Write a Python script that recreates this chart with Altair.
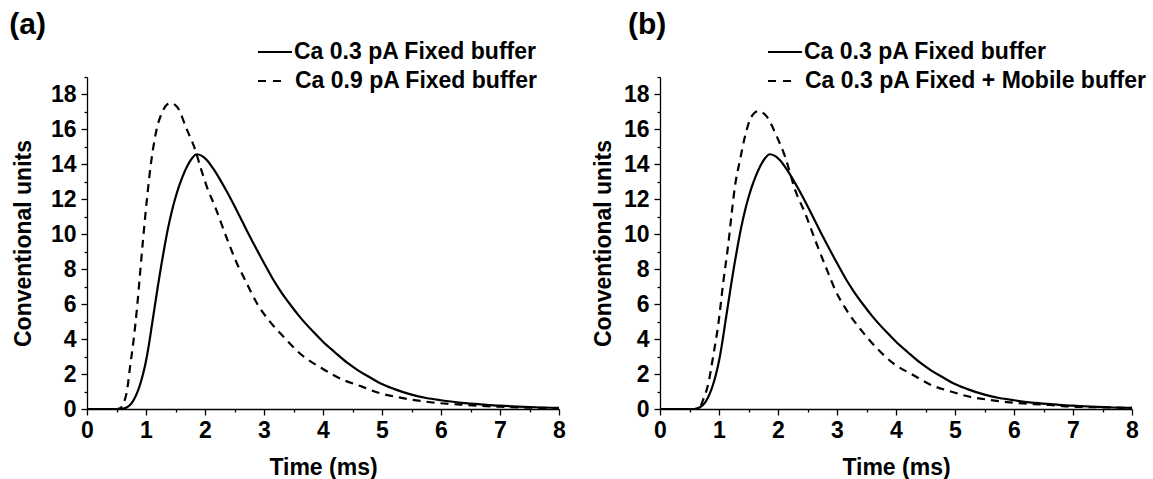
import altair as alt
import pandas as pd

# ---- data ----
fixed03_t = [0, 0.58, 0.65, 0.72, 0.78, 0.84, 0.9, 0.95, 1.0, 1.05, 1.1, 1.15, 1.2,
             1.26, 1.32, 1.38, 1.44, 1.5, 1.56, 1.62, 1.7, 1.78, 1.86, 1.94, 2.03, 2.14, 2.26,
             2.37, 2.48, 2.6, 2.71, 2.85, 3.0, 3.14, 3.28, 3.45, 3.6, 3.84, 4.0, 4.2, 4.41, 4.6,
             4.8, 4.97, 5.2, 5.5, 5.75, 6.0, 6.3, 6.67, 7.0, 7.3, 7.6, 8.0]
fixed03_v = [0, 0, 0.05, 0.2, 0.45, 0.85, 1.4, 2.0, 2.75, 3.7, 4.8, 5.9, 7.0,
             8.25, 9.4, 10.45, 11.35, 12.1, 12.75, 13.3, 13.9, 14.35, 14.58, 14.5, 14.25, 13.75, 13.1,
             12.45, 11.75, 10.95, 10.2, 9.3, 8.35, 7.5, 6.75, 5.95, 5.3, 4.4, 3.85, 3.25, 2.65, 2.2,
             1.8, 1.47, 1.15, 0.82, 0.63, 0.5, 0.37, 0.27, 0.19, 0.14, 0.1, 0.07]

fixed09_t = [0, 0.5, 0.56, 0.62, 0.68, 0.73, 0.79, 0.85, 0.9, 0.95, 1.02, 1.07, 1.12, 1.18,
             1.27, 1.35, 1.42, 1.525, 1.695, 1.835, 1.92, 2.03, 2.17, 2.4, 2.54, 2.68, 2.88,
             3.1, 3.33, 3.64, 3.98, 4.32, 4.66, 4.97, 5.31, 5.65, 5.99, 6.33, 6.67, 7.0, 7.35, 8.0]
fixed09_v = [0, 0, 0.05, 0.33, 1.09, 2.42, 3.95, 5.86, 7.78, 9.7, 12.15, 13.68, 14.9, 16.0,
             16.95, 17.4, 17.5, 17.3, 15.97, 14.83, 13.87, 12.73, 11.58, 9.5, 8.34, 7.38, 6.05,
             5.0, 4.14, 3.09, 2.33, 1.7, 1.28, 0.9, 0.65, 0.46, 0.33, 0.25, 0.18, 0.13, 0.09, 0.05]

mobile03_t = [0, 0.6, 0.68, 0.73, 0.82, 0.9, 0.99, 1.07, 1.158, 1.215, 1.27, 1.356, 1.44, 1.55,
              1.667, 1.81, 1.98, 2.12, 2.29, 2.46, 2.66, 2.83, 2.97, 3.16, 3.39, 3.65, 3.95,
              4.29, 4.6, 4.94, 5.25, 5.59, 5.93, 6.27, 6.61, 7.0, 7.46, 8.0]
mobile03_v = [0, 0, 0.13, 0.52, 1.47, 3.0, 4.9, 7.19, 9.45, 11.2, 12.73, 14.25, 15.59, 16.73,
              17.05, 16.73, 15.59, 14.44, 12.54, 11.2, 9.4, 7.96, 6.81, 5.67, 4.6, 3.57, 2.62,
              1.95, 1.37, 0.99, 0.7, 0.52, 0.38, 0.29, 0.23, 0.13, 0.1, 0.06]

x_ticks = [i / 2 for i in range(0, 17)]
y_ticks = list(range(0, 20))

legend_a = ["Ca 0.3 pA Fixed buffer", "Ca 0.9 pA Fixed buffer"]
legend_b = ["Ca 0.3 pA Fixed buffer", "Ca 0.3 pA Fixed + Mobile buffer"]

W, H = 472, 332
FONT = "Liberation Sans"
FS = 23
LW = 2.2
DASH = [8, 6]

one = pd.DataFrame({"k": [0]})


def panel(dash_t, dash_v, labels, tag, leg_x, ytitle_x):
    xs = alt.Scale(domain=[0, 8], nice=False, zero=False)
    ys = alt.Scale(domain=[0, 19], nice=False, zero=False)
    xax = alt.Axis(
        values=x_ticks, grid=False, title="Time (ms)",
        labelExpr="datum.value % 1 ? '' : format(datum.value, 'd')",
        tickSize={"condition": {"test": "datum.value % 1 !== 0", "value": 3}, "value": 6},
        labelPadding=4, labelOverlap=False, labelFlush=False,
        titleX=W / 2, titleY=58, titleBaseline="middle", titleAlign="center",
    )
    yax = alt.Axis(
        values=y_ticks, grid=False, title="Conventional units",
        labelExpr="datum.value % 2 ? '' : format(datum.value, 'd')",
        tickSize={"condition": {"test": "datum.value % 2 !== 0", "value": 3}, "value": 6},
        labelPadding=5, labelOverlap=False, labelFlush=False,
        titleX=ytitle_x, titleY=H / 2, titleAngle=270, titleBaseline="middle", titleAlign="center",
    )
    solid = alt.Chart(pd.DataFrame({"t": fixed03_t, "v": fixed03_v})).mark_line(
        color="black", strokeWidth=LW, interpolate="monotone"
    ).encode(x=alt.X("t:Q", scale=xs, axis=xax), y=alt.Y("v:Q", scale=ys, axis=yax))
    dashed = alt.Chart(pd.DataFrame({"t": dash_t, "v": dash_v})).mark_line(
        color="black", strokeWidth=LW, strokeDash=DASH, interpolate="monotone"
    ).encode(x=alt.X("t:Q", scale=xs, axis=xax), y=alt.Y("v:Q", scale=ys, axis=yax))

    l1 = alt.Chart(one).mark_rule(color="black", strokeWidth=LW).encode(
        x=alt.value(leg_x), x2=alt.value(leg_x + 34), y=alt.value(-25))
    l2 = alt.Chart(one).mark_rule(color="black", strokeWidth=LW, strokeDash=[8, 7]).encode(
        x=alt.value(leg_x), x2=alt.value(leg_x + 24), y=alt.value(4))
    t1 = alt.Chart(one).mark_text(text=labels[0], align="left", baseline="middle", font=FONT,
                                  fontSize=FS, fontWeight="bold", color="black").encode(
        x=alt.value(leg_x + 36), y=alt.value(-25))
    t2 = alt.Chart(one).mark_text(text=labels[1], align="left", baseline="middle", font=FONT,
                                  fontSize=FS, fontWeight="bold", color="black").encode(
        x=alt.value(leg_x + 37), y=alt.value(4))
    tg = alt.Chart(one).mark_text(text=tag[0], align="left", baseline="middle", font=FONT,
                                  fontSize=30, fontWeight="bold", color="black").encode(
        x=alt.value(tag[1]), y=alt.value(-52))
    return alt.layer(solid, dashed, l1, l2, t1, t2, tg).properties(width=W, height=H)


pa = panel(fixed09_t, fixed09_v, legend_a, ("(a)", -77.7), 171, -63.7)
pb = panel(mobile03_t, mobile03_v, legend_b, ("(b)", -32), 108, -57)

chart = alt.hconcat(pa, pb, spacing=101, bounds="flush").properties(
    padding={"left": 9, "top": 10, "right": 0, "bottom": 0},
    background="white",
).configure_view(strokeWidth=0).configure_axis(
    domainColor="black", domainWidth=1.3, tickColor="black", tickWidth=1.3,
    labelFont=FONT, labelFontSize=FS, labelFontWeight="bold", labelColor="black",
    titleFont=FONT, titleFontSize=FS, titleFontWeight="bold", titleColor="black",
)

chart.save("out.html", embed_options={"renderer": "svg", "actions": False})
